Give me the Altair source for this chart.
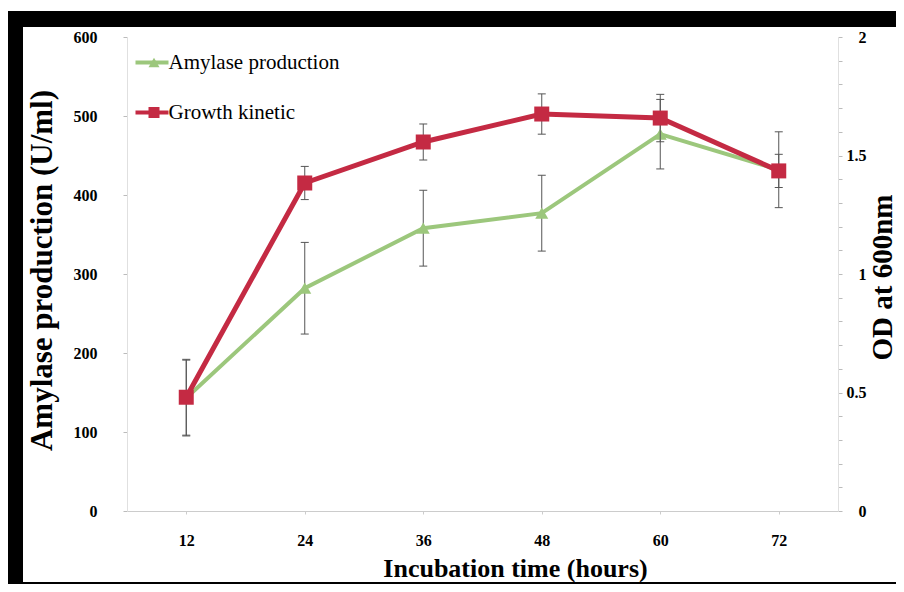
import altair as alt
import pandas as pd

# ---------------- data ----------------
hours = [12, 24, 36, 48, 60, 72]
amylase = [143, 282, 358, 377, 477, 432]          # U/ml (left axis)
amylase_err = [48, 58, 48, 48, 44, 48]
growth = [0.48, 1.384, 1.557, 1.675, 1.658, 1.435]  # OD 600nm (right axis)
growth_err = [0.16, 0.07, 0.076, 0.085, 0.10, 0.07]

series_names = ["Amylase production", "Growth kinetic"]
series_keys = ["amy", "gro"]
series_colors = ["#9CC77C", "#C42A43"]
series_shapes = ["triangle-up", "square"]

left_ticks = [0, 100, 200, 300, 400, 500, 600]
right_ticks = [0, 0.1, 0.2, 0.3, 0.4, 0.5, 0.6, 0.7, 0.8, 0.9, 1.0,
               1.1, 1.2, 1.3, 1.4, 1.5, 1.6, 1.7, 1.8, 1.9, 2.0]

FONT = "Liberation Serif"
ERR_COLOR = "#555555"


def make_df(values, errs, name, key):
    return pd.DataFrame({
        "Hours": hours,
        "Value": values,
        "Lo": [v - e for v, e in zip(values, errs)],
        "Hi": [v + e for v, e in zip(values, errs)],
        "Series": name,
        "Key": key,
    })


df_amy = make_df(amylase, amylase_err, series_names[0], series_keys[0])
df_gro = make_df(growth, growth_err, series_names[1], series_keys[1])

# ---------------- scales / axes ----------------
x_axis = alt.Axis(
    title="Incubation time (hours)", labelAngle=0, grid=False, zindex=1,
    domainColor="#cccccc", tickColor="#cccccc", tickSize=3,
    labelFont=FONT, labelFontSize=16, labelFontWeight="bold", labelColor="black",
    labelPadding=18,
    titleFont=FONT, titleFontSize=26, titleFontWeight="bold", titleColor="black",
    titleX=388, titleY=57, titleAlign="center", titleBaseline="middle",
)
x_scale = alt.Scale(type="point", padding=0.5)


def xenc():
    return alt.X("Hours:O", scale=x_scale, axis=x_axis)


left_axis = alt.Axis(
    orient="left", title="Amylase production (U/ml)", values=left_ticks, grid=False, zindex=1,
    domainColor="#e0e0e0", tickColor="#bbbbbb", tickSize=4,
    labelFont=FONT, labelFontSize=16, labelFontWeight="bold", labelColor="black",
    labelPadding=26,
    titleFont=FONT, titleFontSize=31, titleFontWeight="bold", titleColor="black",
    titleAngle=270, titleX=-85, titleY=233, titleAlign="center", titleBaseline="middle",
)
left_scale = alt.Scale(domain=[0, 600], nice=False)

right_axis = alt.Axis(
    orient="right", title="OD at 600nm", values=right_ticks, grid=False, format="~g", zindex=1,
    labelExpr="(abs(datum.value*2 - round(datum.value*2)) < 0.001) ? format(datum.value, '~g') : ''",
    domainColor="#e0e0e0", tickColor="#bbbbbb", tickSize=4,
    labelFont=FONT, labelFontSize=16, labelFontWeight="bold", labelColor="black",
    labelPadding=24, labelAlign="right",
    titleFont=FONT, titleFontSize=29, titleFontWeight="bold", titleColor="black",
    titleAngle=270, titleX=44, titleY=240, titleAlign="center", titleBaseline="middle",
)
right_scale = alt.Scale(domain=[0, 2], nice=False)

stroke_scale = alt.Scale(domain=series_names, range=series_colors)
fill_scale = alt.Scale(domain=series_keys, range=series_colors)
shape_scale = alt.Scale(domain=series_keys, range=series_shapes)

LX, LY = 14.5, 15
stroke_legend = alt.Legend(
    title=None, orient="none", legendX=LX, legendY=LY, padding=0,
    symbolType="M-3,0H3", symbolSize=121, symbolStrokeWidth=4,
    labelOffset=6, labelFont=FONT, labelFontSize=21, labelColor="black",
    labelLimit=400, rowPadding=28,
)
fill_legend = alt.Legend(
    title=None, orient="none", legendX=LX + 2, legendY=LY, padding=0,
    symbolSize=121, symbolStrokeWidth=0,
    labelOffset=6, labelFont=FONT, labelFontSize=21, labelExpr="''",
    rowPadding=28,
)


def series_group(df, scale, axis, line_width, point_size):
    y = alt.Y("Value:Q", scale=scale, axis=axis)
    base = alt.Chart(df)
    rule = base.mark_rule(color=ERR_COLOR, strokeWidth=1).encode(
        x=xenc(), y=alt.Y("Lo:Q", scale=scale, axis=axis), y2="Hi:Q")
    cap_lo = base.mark_tick(color=ERR_COLOR, thickness=1, size=8, opacity=1).encode(
        x=xenc(), y=alt.Y("Lo:Q", scale=scale, axis=axis))
    cap_hi = base.mark_tick(color=ERR_COLOR, thickness=1, size=8, opacity=1).encode(
        x=xenc(), y=alt.Y("Hi:Q", scale=scale, axis=axis))
    line = base.mark_line(strokeWidth=line_width).encode(
        x=xenc(), y=y,
        stroke=alt.Stroke("Series:N", scale=stroke_scale, legend=stroke_legend))
    pts = base.mark_point(filled=True, size=point_size, opacity=1).encode(
        x=xenc(), y=y,
        fill=alt.Fill("Key:N", scale=fill_scale, legend=fill_legend),
        shape=alt.Shape("Key:N", scale=shape_scale, legend=fill_legend))
    return alt.layer(rule, cap_lo, cap_hi, line, pts)


green = series_group(df_amy, left_scale, left_axis, 4, 170)
red = series_group(df_gro, right_scale, right_axis, 5, 225)

# white page inside the black scanned frame
bg_df = pd.DataFrame({"k": [0]})
inner = alt.Chart(bg_df).mark_rect(color="white").encode(
    x=alt.value(-104), x2=alt.value(772), y=alt.value(-10), y2=alt.value(545))
top_strip = alt.Chart(bg_df).mark_rect(color="white").encode(
    x=alt.value(-125), x2=alt.value(780), y=alt.value(-35), y2=alt.value(-26))

chart = alt.layer(inner, top_strip, green, red).resolve_scale(
    y="independent"
).properties(
    width=711, height=474,
    autosize=alt.AutoSizeParams(type="none"),
    padding={"left": 119, "top": 29, "right": 58, "bottom": 73},
    background="black",
).configure_view(strokeWidth=0)

chart.save("out.html", embed_options={"renderer": "svg", "actions": False})
